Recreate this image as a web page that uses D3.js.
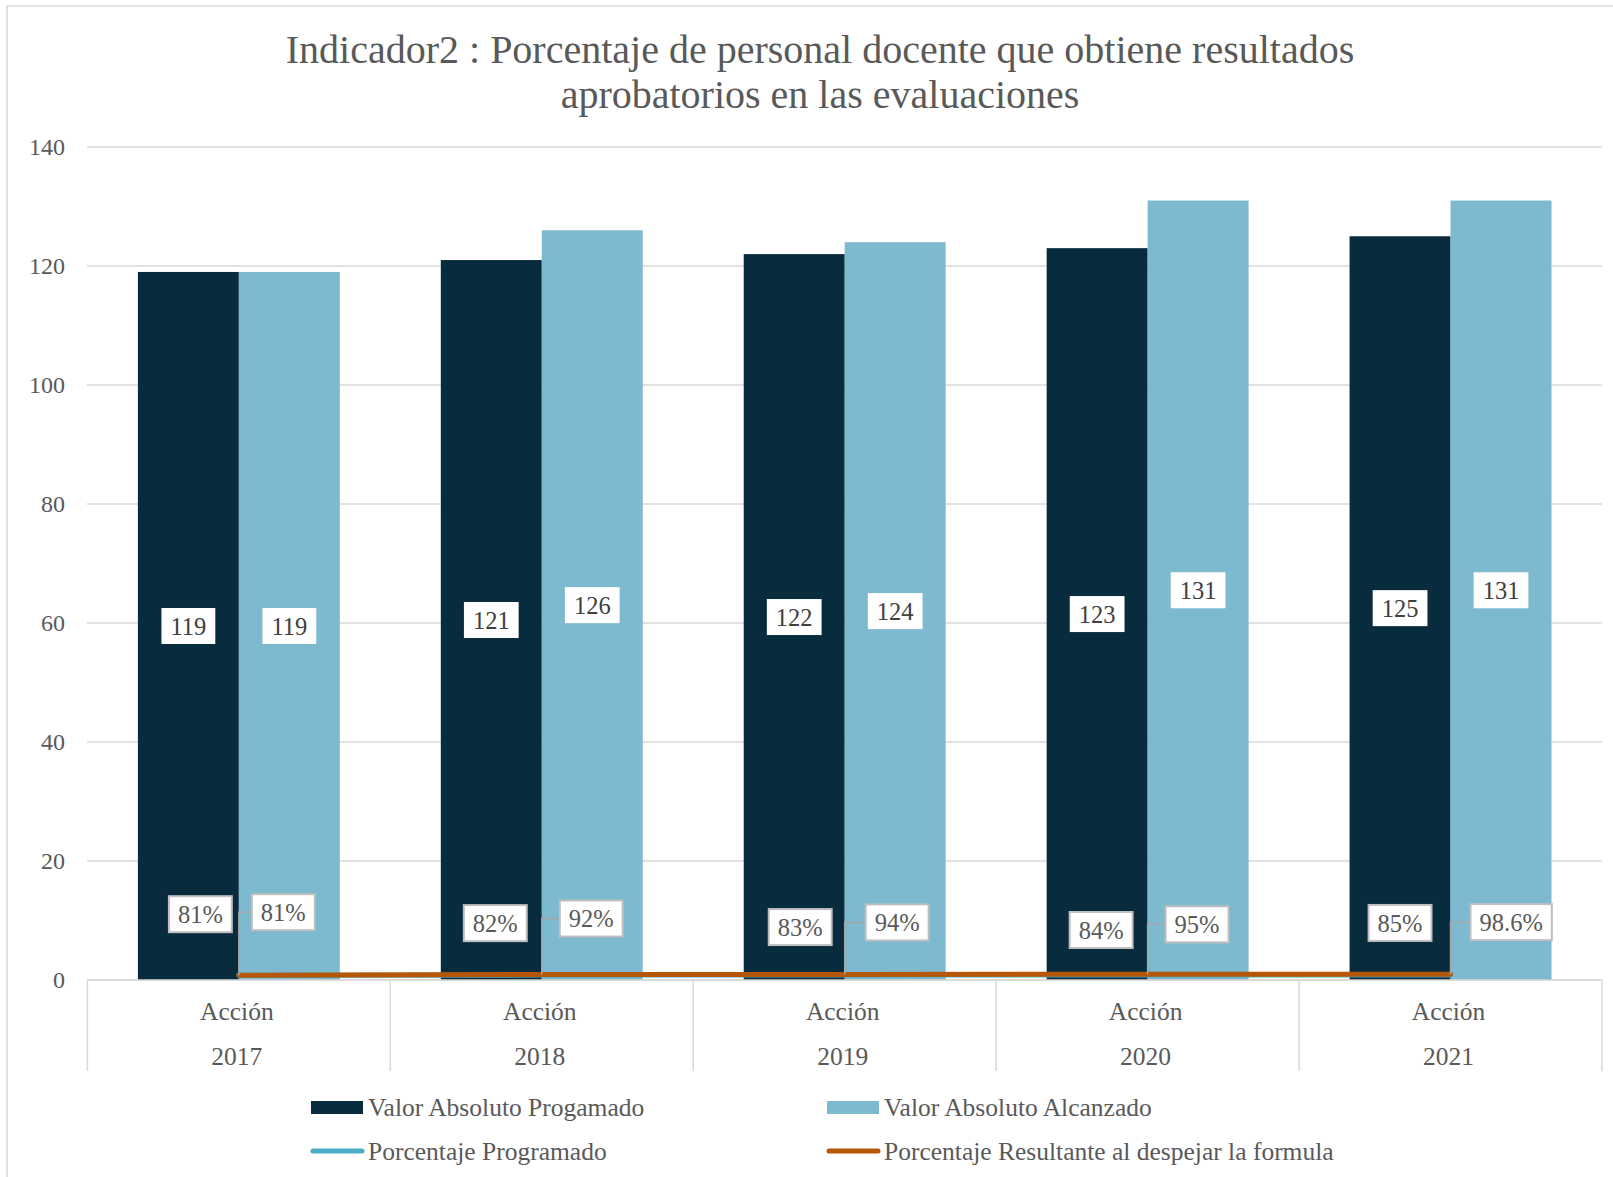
<!DOCTYPE html>
<html>
<head>
<meta charset="utf-8">
<script src="https://cdn.jsdelivr.net/npm/d3@7"></script>
<style>
  body { margin: 0; background: #fff; }
  text { font-family: "Liberation Serif", serif; }
</style>
</head>
<body>
<div class="chart"></div>
<script>
// data
var years = ["2017", "2018", "2019", "2020", "2021"];
var categoryTop = "Acción";
var programado = [119, 121, 122, 123, 125];
var alcanzado = [119, 126, 124, 131, 131];
var pctProgramado = [0.81, 0.82, 0.83, 0.84, 0.85];
var pctResultante = [0.81, 0.92, 0.94, 0.95, 0.986];
var pctResultanteText = ["81%", "92%", "94%", "95%", "98.6%"];
var yTicks = [0, 20, 40, 60, 80, 100, 120, 140];
var seriesNames = ["Valor Absoluto Progamado", "Valor Absoluto Alcanzado",
                   "Porcentaje Programado", "Porcentaje Resultante al despejar la formula"];

// label nudges (pixels) as placed by hand in the original
var progLabelNudge = [[12, -61], [4, -52], [6, -48], [4, -45], [0, -52]];
var resLabelNudge = [[13, -63], [18, -56], [21, -52], [18, -50], [20, -52]];

var svgWidth = 1613, svgHeight = 1177;
var darkBlue = "#082b3e", lightBlue = "#7db9cf", lineBlue = "#4bacc6", orange = "#b65708";
var gridColor = "#d9d9d9", textColor = "#595959";

var svg = d3.select(".chart")
            .append("svg")
            .attr("width", svgWidth)
            .attr("height", svgHeight);

// outer chart frame
svg.append("rect")
   .attr("x", 7).attr("y", 6)
   .attr("width", svgWidth).attr("height", svgHeight)
   .attr("fill", "none")
   .attr("stroke", gridColor)
   .attr("stroke-width", 1.5);

// title
var title = svg.append("text")
               .attr("text-anchor", "middle")
               .attr("fill", textColor)
               .style("font-size", "40px");
title.append("tspan").attr("x", 820).attr("y", 63)
     .text("Indicador2 : Porcentaje de personal docente que obtiene resultados");
title.append("tspan").attr("x", 820).attr("y", 108)
     .text("aprobatorios en las evaluaciones");

// scales
var x0 = d3.scaleBand().domain(years).range([87.4, 1602]);
var x1 = d3.scaleBand().domain(["prog", "alc"]).range([0, x0.bandwidth()]).paddingOuter(0.5);
var y = d3.scaleLinear().domain([0, 140]).range([980, 147]);

// gridlines + y labels
svg.append("g").selectAll("line")
   .data(yTicks)
   .enter()
   .append("line")
   .attr("x1", 87).attr("x2", 1602)
   .attr("y1", d => y(d)).attr("y2", d => y(d))
   .attr("stroke", gridColor)
   .attr("stroke-width", 1.5);

svg.append("g").selectAll("text")
   .data(yTicks)
   .enter()
   .append("text")
   .attr("x", 65)
   .attr("y", d => y(d))
   .attr("dy", "0.35em")
   .attr("text-anchor", "end")
   .attr("fill", textColor)
   .style("font-size", "24px")
   .text(d => d);

// bars
var rows = years.map((yr, i) => ({year: yr, prog: programado[i], alc: alcanzado[i],
                                   pp: pctProgramado[i], pr: pctResultante[i], i: i}));

var groups = svg.append("g").selectAll("g")
                .data(rows)
                .enter()
                .append("g")
                .attr("transform", d => `translate(${x0(d.year)},0)`);

groups.append("rect")
      .attr("x", x1("prog"))
      .attr("width", x1.bandwidth())
      .attr("y", d => y(d.prog))
      .attr("height", d => y(0) - y(d.prog))
      .attr("fill", darkBlue);

groups.append("rect")
      .attr("x", x1("alc"))
      .attr("width", x1.bandwidth())
      .attr("y", d => y(d.alc))
      .attr("height", d => y(0) - y(d.alc))
      .attr("fill", lightBlue);

// x axis line and category separators
svg.append("line")
   .attr("x1", 87).attr("x2", 1602)
   .attr("y1", y(0)).attr("y2", y(0))
   .attr("stroke", gridColor).attr("stroke-width", 1.5);

var edges = years.map(d => x0(d)).concat([x0(years[years.length - 1]) + x0.bandwidth()]);
svg.append("g").selectAll("line")
   .data(edges)
   .enter()
   .append("line")
   .attr("x1", d => d).attr("x2", d => d)
   .attr("y1", y(0)).attr("y2", 1071)
   .attr("stroke", gridColor).attr("stroke-width", 1.5);

var catLabels = svg.append("g").selectAll("g")
                   .data(years)
                   .enter()
                   .append("g")
                   .attr("transform", d => `translate(${x0(d) + x0.bandwidth() / 2 - 2},0)`);
catLabels.append("text")
         .attr("y", 1020).attr("text-anchor", "middle")
         .attr("fill", textColor).style("font-size", "25.5px")
         .text(categoryTop);
catLabels.append("text")
         .attr("y", 1065).attr("text-anchor", "middle")
         .attr("fill", textColor).style("font-size", "25.5px")
         .text(d => d);

// percent lines (drawn on the same axis, so they lie at the bottom)
var cx = d => x0(d.year) + x0.bandwidth() / 2;
svg.append("path")
   .datum(rows)
   .attr("fill", "none")
   .attr("stroke", lineBlue)
   .attr("stroke-width", 5)
   .attr("stroke-linecap", "round")
   .attr("d", d3.line().x(cx).y(d => y(d.pp)));

svg.append("path")
   .datum(rows)
   .attr("fill", "none")
   .attr("stroke", orange)
   .attr("stroke-width", 5)
   .attr("stroke-linecap", "round")
   .attr("d", d3.line().x(cx).y(d => y(d.pr)));

// boxed label helper
function boxLabel(g, txt, x, yy, anchor, bordered, color) {
  var t = g.append("text")
           .attr("x", x).attr("y", yy)
           .attr("dy", "0.35em")
           .attr("text-anchor", anchor)
           .attr("fill", color)
           .style("font-size", "24.5px")
           .text(txt);
  var bb = t.node().getBBox();
  g.insert("rect", "text")
   .attr("x", bb.x - 9).attr("y", yy - 18)
   .attr("width", bb.width + 18).attr("height", 36)
   .attr("fill", "#fff")
   .attr("stroke", bordered ? "#bfbfbf" : "none")
   .attr("stroke-width", 2);
}

// value labels centred in bars
var labelLayer = svg.append("g");
rows.forEach(function (d) {
  boxLabel(labelLayer.append("g"), d.prog, x0(d.year) + x1("prog") + x1.bandwidth() / 2, y(d.prog / 2), "middle", false, "#404040");
  boxLabel(labelLayer.append("g"), d.alc, x0(d.year) + x1("alc") + x1.bandwidth() / 2, y(d.alc / 2), "middle", false, "#404040");
});

// percent labels
rows.forEach(function (d) {
  var i = d.i;
  var px = x0(d.year) + x1("prog") + x1.bandwidth() / 2 + progLabelNudge[i][0];
  var py = y(d.pp) + progLabelNudge[i][1];
  boxLabel(labelLayer.append("g"), Math.round(d.pp * 100) + "%", px, py, "middle", true, textColor);

  var ax = cx(d), ay = y(d.pr);
  var lx = ax + resLabelNudge[i][0], ly = ay + resLabelNudge[i][1];
  labelLayer.append("path")
            .attr("d", `M${ax},${ay}V${ly}H${lx}`)
            .attr("fill", "none")
            .attr("stroke", "#a6a6a6")
            .attr("stroke-width", 1.5);
  boxLabel(labelLayer.append("g"), pctResultanteText[i], lx + 9, ly, "start", true, textColor);
});

// legend
var legendPos = [[311, 1107], [827, 1107], [311, 1151], [827, 1151]];
var legend = svg.append("g").selectAll("g")
                .data(seriesNames)
                .enter()
                .append("g")
                .attr("transform", (d, i) => `translate(${legendPos[i][0]},${legendPos[i][1]})`);

legend.filter((d, i) => i < 2)
      .append("rect")
      .attr("x", 0).attr("y", -6)
      .attr("width", 52).attr("height", 13)
      .attr("fill", (d, i) => i === 0 ? darkBlue : lightBlue);

legend.filter((d, i) => i >= 2)
      .append("line")
      .attr("x1", 2).attr("x2", 51)
      .attr("y1", 0).attr("y2", 0)
      .attr("stroke", (d, i) => i === 0 ? lineBlue : orange)
      .attr("stroke-width", 5)
      .attr("stroke-linecap", "round");

legend.append("text")
      .attr("x", 57)
      .attr("dy", "0.35em")
      .attr("fill", textColor)
      .style("font-size", "25.5px")
      .text(d => d);
</script>
</body>
</html>
